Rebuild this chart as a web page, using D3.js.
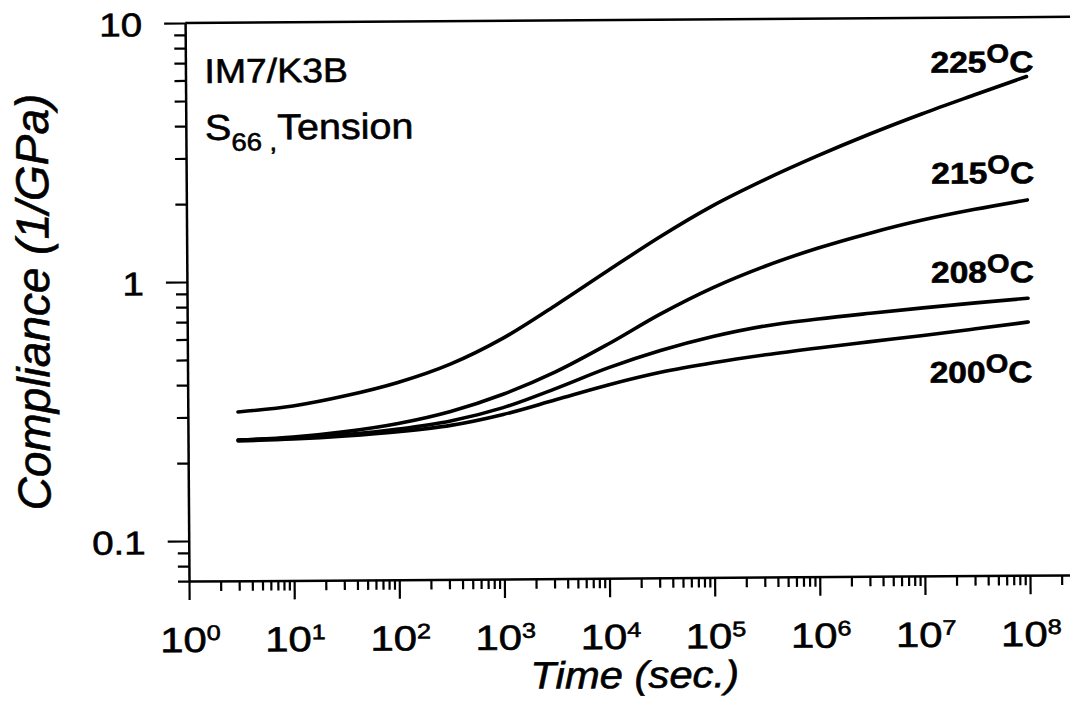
<!DOCTYPE html>
<html><head><meta charset="utf-8">
<script src="https://cdn.jsdelivr.net/npm/d3@7"></script>
<style>
body{margin:0;background:#fff}
svg{display:block;background:#fff}
text{font-family:"Liberation Sans",Arial,Helvetica,sans-serif;fill:#000;stroke:#000;stroke-width:0.6px}
</style>
</head><body>
<svg id="chart" width="1070" height="701"></svg>
<script>
// ---- data ----
const timeSec = [3, 10, 31.6, 100, 316, 1000, 3162, 10000, 31623, 100000, 316228, 1000000, 3162278, 10000000, 31622777, 100000000];
const c225 = [0.314,0.330,0.360,0.404,0.474,0.594,0.792,1.074,1.449,1.901,2.393,2.944,3.565,4.256,5.02,5.90];
const c215 = [0.2445,0.2502,0.2619,0.2806,0.3113,0.3616,0.4396,0.5602,0.7300,0.9190,1.110,1.298,1.480,1.657,1.817,1.969];
const c208 = [0.2445,0.248,0.255,0.267,0.286,0.321,0.379,0.454,0.528,0.596,0.653,0.692,0.726,0.759,0.791,0.822];
const c200 = [0.2424,0.246,0.252,0.261,0.275,0.302,0.343,0.390,0.435,0.472,0.505,0.535,0.564,0.594,0.628,0.665];
const seriesNames = ["225", "215", "208", "200"];
const xMajorTicks = [1,1e1,1e2,1e3,1e4,1e5,1e6,1e7,1e8];
const xTickExponents = ["0","1","2","3","4","5","6","7","8"];
const xMinorTicks = [];
[1,1e1,1e2,1e3,1e4,1e5,1e6,1e7].forEach(d => [2,3,4,5,6,7,8,9].forEach(m => xMinorTicks.push(d*m)));
xMinorTicks.push(2e8);
const yMajorTicks = [0.1, 1, 10];
const yTickLabels = ["0.1", "1", "10"];
const yMinorTicks = [0.07,0.08,0.09,0.2,0.3,0.4,0.5,0.6,0.7,0.8,0.9,2,3,4,5,6,7,8,9];
const titleLine1 = "IM7/K3B";
const xTitle = "Time (sec.)";
const yTitle = "Compliance (1/GPa)";

// ---- layout ----
const svg = d3.select("#chart");
const g = svg.append("g").attr("transform", "rotate(-0.4,189,581)");

const x = d3.scaleLog().domain([1, 1e8]).range([189, 1030]);
const y = d3.scaleLog().domain([0.1, 10]).range([541, 23]);
const xAx = x.copy().domain([1, 3e8]).range([x(1), x(3e8)]);
const yAx = y.copy().domain([0.07, 10]).range([y(0.07), y(10)]);

// axes
g.append("g").attr("transform", `translate(0,${yAx.range()[0]})`)
  .call(d3.axisBottom(xAx).tickValues(xMajorTicks).tickSize(19).tickSizeOuter(0).tickFormat(""));
g.append("g").attr("transform", `translate(0,${yAx.range()[0]})`)
  .call(d3.axisBottom(xAx).tickValues(xMinorTicks).tickSize(10).tickSizeOuter(0).tickFormat(""))
  .select(".domain").remove();
g.append("g").attr("transform", `translate(${xAx.range()[0]},0)`)
  .call(d3.axisLeft(yAx).tickValues(yMajorTicks).tickSize(21).tickSizeOuter(0).tickFormat(""));
g.append("g").attr("transform", `translate(${xAx.range()[0]},0)`)
  .call(d3.axisLeft(yAx).tickValues(yMinorTicks).tickSize(11).tickSizeOuter(0).tickFormat(""))
  .select(".domain").remove();
g.selectAll(".domain").attr("stroke", "#000").attr("stroke-width", 2.5);
g.selectAll(".tick line").attr("stroke", "#000").attr("stroke-width", 2.2);
// top frame line
g.append("line").attr("x1", xAx.range()[0]).attr("x2", xAx.range()[1])
  .attr("y1", y(10)).attr("y2", y(10)).attr("stroke", "#000").attr("stroke-width", 2.5);

// x tick labels (10^n)
xMajorTicks.forEach((v, i) => {
  const t = g.append("text")
    .attr("transform", `translate(${x(v) + 1},652) scale(1.2,1)`)
    .attr("text-anchor", "middle").style("font-size", "35px");
  t.append("tspan").text("10");
  t.append("tspan").attr("dy", -12).style("font-size", "21px").text(xTickExponents[i]);
});
// y tick labels
yMajorTicks.forEach((v, i) => {
  g.append("text")
    .attr("transform", `translate(146,${y(v) + 13}) scale(1.17,1)`)
    .attr("text-anchor", "end").style("font-size", "33px").text(yTickLabels[i]);
});

// curves
const line = d3.line().x(d => x(d[0])).y(d => y(d[1])).curve(d3.curveMonotoneX);
[c225, c215, c208, c200].forEach(s => {
  g.append("path").datum(timeSec.map((t, i) => [t, s[i]]))
    .attr("d", line).attr("fill", "none").attr("stroke", "#000")
    .attr("stroke-width", 3.6).attr("stroke-linecap", "round");
});

// curve labels
const labelY = [78, 189, 288, 388];
const labelX = [1037, 1037, 1036, 1034];
seriesNames.forEach((n, i) => {
  const t = g.append("text")
    .attr("transform", `translate(${labelX[i]},${labelY[i]}) scale(1.12,1)`)
    .attr("text-anchor", "end").style("font-size", "30px").style("font-weight", "bold");
  t.append("tspan").text(n);
  t.append("tspan").attr("dy", -10).style("font-size", "26px").text("O");
  t.append("tspan").attr("dy", 10).text("C");
});

// annotation text
g.append("text").attr("transform", "translate(208,83) scale(1.1,1)")
  .style("font-size", "34px").text(titleLine1);
const t2 = g.append("text").attr("transform", "translate(208,140) scale(1.1,1)").style("font-size", "36px");
t2.append("tspan").text("S");
t2.append("tspan").attr("dy", 11).style("font-size", "25px").text("66 ,");
t2.append("tspan").attr("dy", -11).text("Tension");

// axis titles
g.append("text").attr("transform", "translate(634,691) scale(1.1,1)")
  .attr("text-anchor", "middle").style("font-size", "38px").style("font-style", "italic").text(xTitle);
g.append("text").attr("transform", "translate(51,301) rotate(-90)")
  .attr("text-anchor", "middle").style("font-size", "46px").style("font-style", "italic").text(yTitle);
</script>
</body></html>
